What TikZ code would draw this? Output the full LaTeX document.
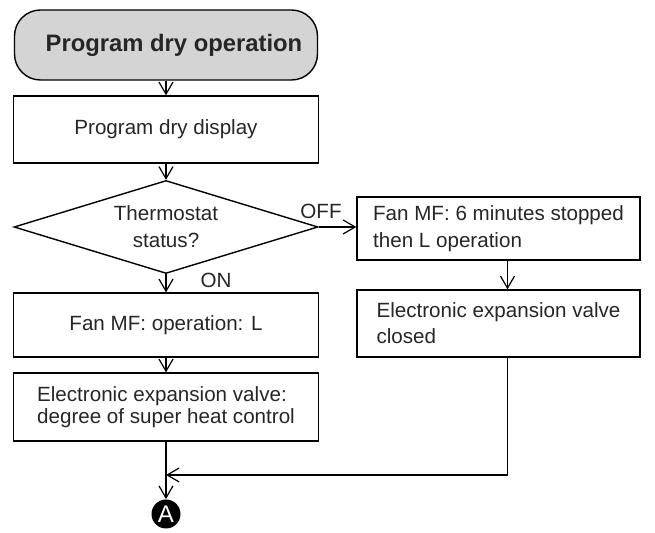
\documentclass[tikz,border=0pt]{standalone}
\usepackage{fontspec}
\setmainfont{Liberation Sans}
\usetikzlibrary{arrows.meta,shapes.geometric}

\begin{document}
\begin{tikzpicture}[x=0.5pt, y=-0.5pt, >={Straight Barb[length=6pt,width=7pt]},
    every node/.style={text=black!85, font=\fontsize{10.3}{12}\selectfont},
    box/.style={draw, line width=0.7pt, minimum width=152.5pt, inner sep=0pt},
    flow/.style={->, line width=0.6pt}]
    \useasboundingbox (0,0) rectangle (655,533);
    % Left column
    \node[box, rounded corners=13pt, fill=black!17, minimum width=151.5pt, minimum height=35pt,
        font=\fontsize{11.9}{14}\selectfont\bfseries] (start) at (166,45) {\hspace*{8pt}Program dry operation};
    \node[box, minimum height=33.5pt] (disp) at (166,129.5) {Program dry display};
    \node[draw, line width=0.7pt, shape=diamond, aspect=4, inner sep=0pt, minimum width=152pt,
        minimum height=46.5pt, align=center, font=\fontsize{10.3}{13.5}\selectfont] (therm) at (166,227) {Thermostat\\status?};
    \node (off) at (321,211) {OFF};
    \node (on) at (216,280) {ON};
    \node[box, minimum height=32pt] (fanL) at (166,325) {Fan MF: operation: L};
    \node[box, minimum height=34pt, align=left, font=\fontsize{10.3}{11}\selectfont] (valveSH) at (166,407)
        {Electronic expansion valve:\\degree of super heat control};
    \node[circle, fill=black, text=white, minimum size=14.5pt, inner sep=0pt,
        font=\fontsize{12}{12}\selectfont] (markA) at (166,514) {A};
    % Right column
    \node[box, minimum width=141.5pt, minimum height=31.5pt, align=left,
        font=\fontsize{10.3}{13.5}\selectfont] (fanstop) at (498.5,228.5) {Fan MF: 6 minutes stopped\\then L operation};
    \node[box, minimum width=141.5pt, minimum height=33.5pt, align=left,
        font=\fontsize{10.3}{13}\selectfont] (valveC) at (498.5,323.5) {Electronic expansion valve\\closed};
    \coordinate (join) at (166,475);
    % Connectors
    \draw[flow] (start) -- (disp);
    \draw[flow] (disp) -- (therm);
    \draw[flow] (therm.east) -- (therm.east -| fanstop.west);
    \draw[flow] (therm.south) -- (fanL.north);
    \draw[flow] ([xshift=4.5pt]fanstop.south) -- ([xshift=4.5pt]valveC.north);
    \draw[flow] (fanL) -- (valveSH);
    \draw[flow] (valveSH) -- (markA);
    \draw[flow] ([xshift=4.5pt]valveC.south) |- (join);
\end{tikzpicture}
\end{document}
